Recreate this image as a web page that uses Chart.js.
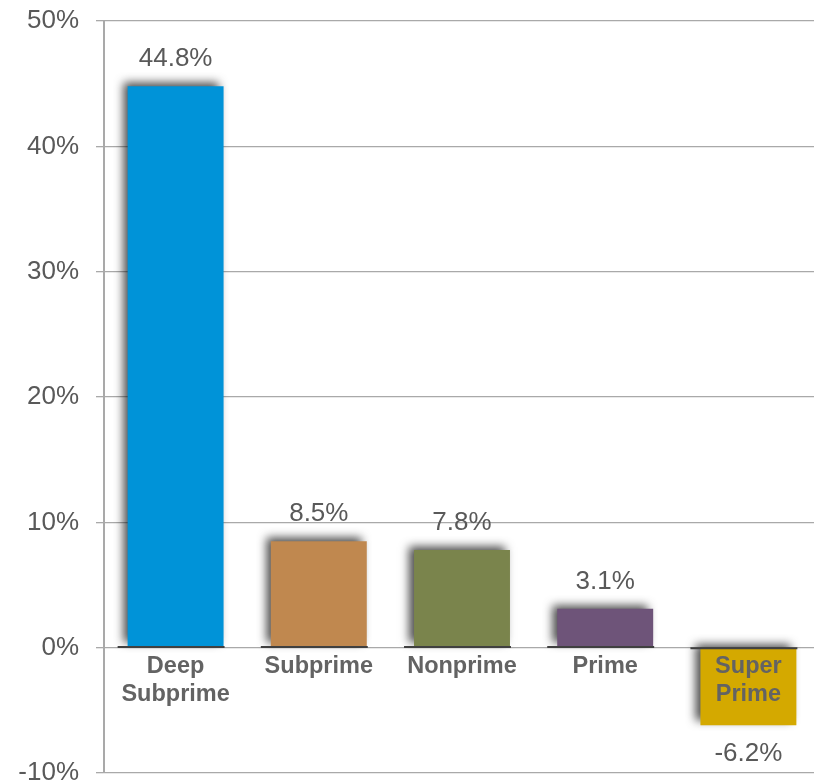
<!DOCTYPE html>
<html>
<head>
<meta charset="utf-8">
<title>Change by credit tier</title>
<script src="https://cdn.jsdelivr.net/npm/chart.js@4.4.1/dist/chart.umd.min.js"></script>
<style>
  html, body { margin: 0; padding: 0; background: #fff; overflow: hidden; }
  #wrap { width: 814px; height: 783px; overflow: hidden; }
</style>
</head>
<body>
<div id="wrap"><canvas id="chart" width="822" height="800"></canvas></div>
<script>
const categories = [['Deep', 'Subprime'], 'Subprime', 'Nonprime', 'Prime', ['Super', 'Prime']];
const changes = [44.8, 8.5, 7.8, 3.1, -6.2];
const barColors = ['#0093d8', '#c0884f', '#7a844c', '#6e5479', '#d4a900'];
const yTicks = [-10, 0, 10, 20, 30, 40, 50];

const FONT = '"Liberation Sans", Arial, sans-serif';

// soft shadow up/left of each bar, dark base line and value label
const barDecor = {
    id: 'barDecor',
    beforeDatasetsDraw(chart) {
        const ctx = chart.ctx;
        ctx.save();
        ctx.shadowColor = 'rgba(0, 0, 0, 0.7)';
        ctx.shadowBlur = 9;
        ctx.shadowOffsetX = -5;
        ctx.shadowOffsetY = -4;
    },
    afterDatasetsDraw(chart) {
        const ctx = chart.ctx;
        ctx.restore();
        const meta = chart.getDatasetMeta(0);
        ctx.save();
        meta.data.forEach((bar, i) => {
            const half = bar.width / 2;
            ctx.strokeStyle = '#404040';
            ctx.lineWidth = 2;
            ctx.beginPath();
            ctx.moveTo(bar.x - half - 10, bar.base);
            ctx.lineTo(bar.x + half + 1, bar.base);
            ctx.stroke();

            const v = changes[i];
            ctx.fillStyle = '#595959';
            ctx.font = '26px ' + FONT;
            ctx.textAlign = 'center';
            ctx.textBaseline = 'middle';
            const y = v >= 0 ? bar.y - 27 : bar.y + 28;
            ctx.fillText(v.toFixed(1) + '%', bar.x, y);
        });
        ctx.restore();
    }
};

new Chart(document.querySelector('#chart'), {
    type: 'bar',
    data: {
        labels: categories,
        datasets: [
            {
                data: changes,
                backgroundColor: barColors,
                barPercentage: 0.67,
                categoryPercentage: 1,
            },
        ],
    },
    options: {
        responsive: false,
        animation: false,
        layout: { padding: { top: 21, right: 2, bottom: 27, left: 0 } },
        plugins: {
            legend: { display: false },
            tooltip: { enabled: false },
        },
        scales: {
            x: {
                position: { y: 0 },
                offset: true,
                grid: { display: false, drawTicks: false },
                border: { display: false },
                ticks: {
                    z: 1,
                    color: '#636363',
                    font: { family: FONT, size: 23.5, weight: 'bold', lineHeight: 1.2 },
                    padding: 5,
                    maxRotation: 0,
                    autoSkip: false,
                },
                afterFit(scale) { scale.height = 0; },
            },
            y: {
                min: -10,
                max: 50,
                afterBuildTicks(scale) { scale.ticks = yTicks.map(v => ({ value: v })); },
                afterFit(scale) {
                    scale.width = 104;
                    scale.paddingTop = 0;
                    scale.paddingBottom = 0;
                },
                grid: { color: '#a9a9a9', lineWidth: 1.3, tickLength: 8 },
                border: { color: '#a9a9a9', width: 2 },
                ticks: {
                    color: '#595959',
                    font: { family: FONT, size: 26 },
                    padding: 17,
                    callback: v => v + '%',
                },
            },
        },
    },
    plugins: [barDecor],
});
</script>
</body>
</html>
